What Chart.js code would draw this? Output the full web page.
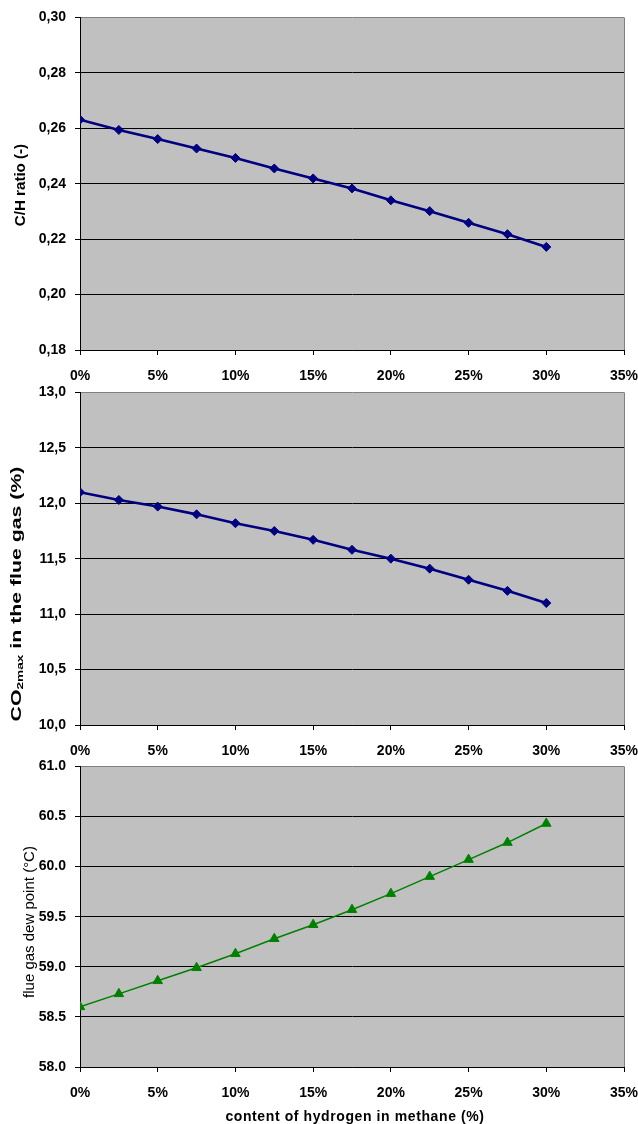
<!DOCTYPE html>
<html>
<head>
<meta charset="utf-8">
<script src="https://cdn.jsdelivr.net/npm/chart.js@4"></script>
<style>
  html, body { margin: 0; padding: 0; background: #fff; }
  body { width: 638px; height: 1124px; position: relative; overflow: hidden; }
  .box { position: absolute; left: 0; width: 638px; }
</style>
</head>
<body>
<div class="box" style="top:0;height:390px"><canvas id="c1"></canvas></div>
<div class="box" style="top:375px;height:390px"><canvas id="c2"></canvas></div>
<div class="box" style="top:749px;height:375px"><canvas id="c3"></canvas></div>
<script>
// hydrogen share in the methane blend (%)
const hydrogenShare = [0, 2.5, 5, 7.5, 10, 12.5, 15, 17.5, 20, 22.5, 25, 27.5, 30];
// carbon / hydrogen ratio of the fuel (-)
const chRatio = [0.2631, 0.2594, 0.2561, 0.2527, 0.2493, 0.2455, 0.2419, 0.2383, 0.2340, 0.2301, 0.2259, 0.2218, 0.2172];
// maximum CO2 content in the flue gas (%)
const co2Max = [12.10, 12.03, 11.97, 11.90, 11.82, 11.75, 11.67, 11.58, 11.50, 11.41, 11.31, 11.21, 11.10];
// flue gas dew point (°C)
const dewPoint = [58.60, 58.73, 58.86, 58.99, 59.13, 59.28, 59.42, 59.57, 59.73, 59.90, 60.07, 60.24, 60.43];
// x axis ticks (%)
const xTicks = [0, 5, 10, 15, 20, 25, 30, 35];
// y axis ranges [min, max, step]
const chRange = [0.18, 0.30, 0.02];
const co2Range = [10.0, 13.0, 0.5];
const dewRange = [58.0, 61.0, 0.5];

const FONT = '"Liberation Sans", Arial, Helvetica, sans-serif';
Chart.defaults.font.family = FONT;
Chart.defaults.color = '#000';

const plotFrame = {
  id: 'plotFrame',
  beforeDraw(chart) {
    const a = chart.chartArea, ctx = chart.ctx;
    ctx.save();
    ctx.fillStyle = '#C0C0C0';
    ctx.fillRect(a.left, a.top, a.right - a.left, a.bottom - a.top);
    ctx.restore();
  },
  beforeDatasetsDraw(chart) {
    const a = chart.chartArea, ctx = chart.ctx;
    ctx.save();
    ctx.strokeStyle = '#808080';
    ctx.lineWidth = 1;
    ctx.beginPath();
    ctx.moveTo(Math.round(a.right) + 0.5, a.top);
    ctx.lineTo(Math.round(a.right) + 0.5, a.bottom);
    ctx.stroke();
    ctx.restore();
  }
};

// rotated axis title; parts = [{text, sub}]
function drawVerticalTitle(ctx, parts, cx, cy, weight, size, stretch) {
  ctx.save();
  ctx.translate(cx, cy);
  ctx.rotate(-Math.PI / 2);
  ctx.scale(stretch, 1);
  ctx.fillStyle = '#000';
  ctx.textBaseline = 'middle';
  ctx.textAlign = 'left';
  const fonts = parts.map(p => (weight + ' ' + (p.sub ? 9 : size) + 'px ' + FONT));
  let total = 0;
  parts.forEach((p, i) => { ctx.font = fonts[i]; total += ctx.measureText(p.text).width; });
  let x = -total / 2;
  parts.forEach((p, i) => {
    ctx.font = fonts[i];
    ctx.fillText(p.text, x, p.sub ? 4 : 0);
    x += ctx.measureText(p.text).width;
  });
  ctx.restore();
}

function makeChart(id, values, range, opts) {
  const [yMin, yMax, yStep] = range;
  const titlePlugin = {
    id: 'titles_' + id,
    afterDraw(chart) {
      const ctx = chart.ctx;
      drawVerticalTitle(ctx, opts.yTitle, opts.yTitleX, opts.yTitleY, opts.yTitleWeight, opts.yTitleSize, opts.yTitleStretch);
      if (opts.xTitle) {
        ctx.save();
        ctx.font = 'bold 14px ' + FONT;
        ctx.letterSpacing = '0.6px';
        ctx.fillStyle = '#000';
        ctx.textAlign = 'center';
        ctx.textBaseline = 'middle';
        ctx.fillText(opts.xTitle, 355, opts.xTitleY);
        ctx.restore();
      }
    }
  };
  return new Chart(document.getElementById(id), {
    type: 'line',
    data: {
      datasets: [{
        data: hydrogenShare.map((x, i) => ({ x: x, y: values[i] })),
        borderColor: opts.color,
        backgroundColor: opts.color,
        borderWidth: opts.lineWidth,
        pointStyle: opts.marker,
        pointRadius: opts.markerSize,
        pointHoverRadius: opts.markerSize,
        pointBorderWidth: 1,
        tension: 0,
        fill: false
      }]
    },
    options: {
      responsive: true,
      maintainAspectRatio: false,
      animation: false,
      events: [],
      layout: { padding: { top: 14, left: 0, right: 0, bottom: 0 } },
      plugins: { legend: { display: false }, tooltip: { enabled: false } },
      scales: {
        x: {
          type: 'linear',
          min: xTicks[0],
          max: xTicks[xTicks.length - 1],
          afterBuildTicks(scale) { scale.ticks = xTicks.map(v => ({ value: v })); },
          afterFit(scale) {
            scale.height = opts.xHeight;
            scale.paddingLeft = 0;
            scale.paddingRight = 14;
          },
          grid: { drawOnChartArea: false, drawTicks: true, tickLength: 5, tickColor: '#000', tickWidth: 1 },
          border: { display: true, color: '#000', width: 1 },
          ticks: {
            padding: 13,
            maxRotation: 0,
            autoSkip: false,
            font: { size: 14, weight: 'bold' },
            callback: v => v + '%'
          }
        },
        y: {
          min: yMin,
          max: yMax,
          afterFit(scale) { scale.width = 80; },
          grid: {
            color: c => (c.tick && Math.abs(c.tick.value - yMax) < 1e-9) ? '#808080' : '#000',
            lineWidth: 1,
            drawTicks: true,
            tickLength: 5,
            tickColor: '#000'
          },
          border: { display: true, color: '#000', width: 1 },
          ticks: {
            stepSize: yStep,
            padding: 9,
            font: { size: 14, weight: 'bold' },
            callback: v => opts.fmt(v)
          }
        }
      }
    },
    plugins: [plotFrame, titlePlugin]
  });
}

makeChart('c1', chRatio, chRange, {
  color: '#000080', lineWidth: 2.6, marker: 'rectRot', markerSize: 4.5, xHeight: 40,
  fmt: v => v.toFixed(2).replace('.', ','),
  yTitle: [{ text: 'C/H ratio (-)' }], yTitleX: 21, yTitleY: 185, yTitleWeight: 'bold', yTitleSize: 14, yTitleStretch: 1.08
});
makeChart('c2', co2Max, co2Range, {
  color: '#000080', lineWidth: 2.6, marker: 'rectRot', markerSize: 4.5, xHeight: 40,
  fmt: v => v.toFixed(1).replace('.', ','),
  yTitle: [{ text: 'CO' }, { text: '2max', sub: true }, { text: ' in the flue gas (%)' }],
  yTitleX: 17, yTitleY: 219, yTitleWeight: 'bold', yTitleSize: 14, yTitleStretch: 1.52
});
makeChart('c3', dewPoint, dewRange, {
  color: '#008000', lineWidth: 1.5, marker: 'triangle', markerSize: 5.5, xHeight: 57,
  fmt: v => v.toFixed(1),
  yTitle: [{ text: 'flue gas dew point (°C)' }], yTitleX: 30, yTitleY: 173, yTitleWeight: 'normal', yTitleSize: 15, yTitleStretch: 1.0,
  xTitle: 'content of hydrogen in methane (%)', xTitleY: 368
});
</script>
</body>
</html>
